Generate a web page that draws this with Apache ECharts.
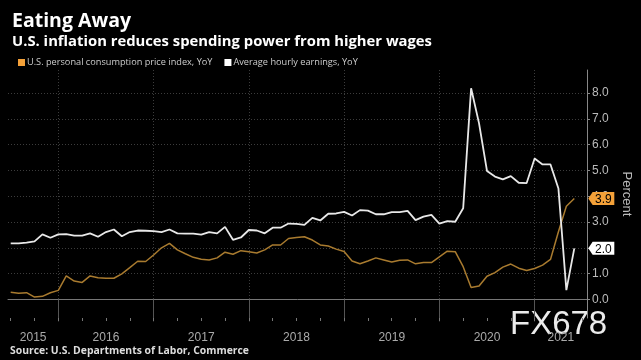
<!DOCTYPE html>
<html><head><meta charset="utf-8">
<script src="https://cdn.jsdelivr.net/npm/echarts@6/dist/echarts.min.js"></script>
<style>html,body{margin:0;padding:0;background:#000}#c{width:641px;height:360px}</style>
</head><body><div id="c"></div>
<script>
const months = [
'2015-06','2015-07','2015-08','2015-09','2015-10','2015-11','2015-12',
'2016-01','2016-02','2016-03','2016-04','2016-05','2016-06','2016-07','2016-08','2016-09','2016-10','2016-11','2016-12',
'2017-01','2017-02','2017-03','2017-04','2017-05','2017-06','2017-07','2017-08','2017-09','2017-10','2017-11','2017-12',
'2018-01','2018-02','2018-03','2018-04','2018-05','2018-06','2018-07','2018-08','2018-09','2018-10','2018-11','2018-12',
'2019-01','2019-02','2019-03','2019-04','2019-05','2019-06','2019-07','2019-08','2019-09','2019-10','2019-11','2019-12',
'2020-01','2020-02','2020-03','2020-04','2020-05','2020-06','2020-07','2020-08','2020-09','2020-10','2020-11','2020-12',
'2021-01','2021-02','2021-03','2021-04','2021-05'];
const pce = [
0.28,0.24,0.26,0.09,0.12,0.26,0.35,
0.91,0.71,0.66,0.91,0.84,0.82,0.82,0.99,1.23,1.48,1.47,1.72,
2.00,2.17,1.92,1.77,1.63,1.56,1.53,1.61,1.83,1.75,1.89,1.85,
1.80,1.92,2.11,2.11,2.36,2.40,2.43,2.30,2.11,2.07,1.95,1.86,
1.49,1.38,1.49,1.61,1.53,1.45,1.52,1.53,1.38,1.43,1.43,1.65,
1.87,1.85,1.27,0.46,0.52,0.90,1.04,1.25,1.37,1.21,1.12,1.20,
1.33,1.55,2.62,3.61,3.91];
const ahe = [
2.17,2.17,2.20,2.25,2.52,2.39,2.52,
2.53,2.47,2.47,2.56,2.43,2.61,2.71,2.45,2.61,2.67,2.66,2.65,
2.61,2.71,2.56,2.55,2.55,2.51,2.61,2.56,2.81,2.31,2.40,2.69,
2.67,2.56,2.78,2.78,2.94,2.93,2.89,3.16,3.06,3.32,3.33,3.39,
3.25,3.46,3.44,3.30,3.30,3.38,3.38,3.43,3.07,3.21,3.28,2.94,
3.03,3.01,3.53,8.18,6.82,4.98,4.76,4.65,4.78,4.52,4.51,5.46,
5.23,5.23,4.30,0.36,1.98];
const yearLabels = ['2015','2016','2017','2018','2019','2020','2021'];
const yTicks = [0,1,2,3,4,5,6,7,8];
const seriesNames = ['U.S. personal consumption price index, YoY','Average hourly earnings, YoY'];

const baseYear = 2015;
const toIdx = s => { const [y,m] = s.split('-').map(Number); return (y-baseYear)*12 + m; };
const xs = months.map(toIdx);
const X_MIN = 5.66, X_MAX = 78.6;
const yearBounds = yearLabels.map((_,i)=>i*12).filter(v=>v>X_MIN && v<X_MAX);
const yearCenters = yearLabels.map((_,i)=>{const a=Math.max(i*12,X_MIN),b=Math.min((i+1)*12,X_MAX);return (a+b)/2;});
const quarterTicks = [];
for (let q=3; q<=X_MAX; q+=3) if (q>=X_MIN) quarterTicks.push(q);

const pceData = xs.map((x,i)=>[x,pce[i]]);
const aheData = xs.map((x,i)=>[x,ahe[i]]);
const lastX = xs[xs.length-1];

const tagPath = 'path://M0,6 L5,0 L30,0 L30,12 L5,12 Z';
function tag(val, color){
  return {
    symbol: tagPath, symbolSize:[26,13], symbolKeepAspect:false, symbolOffset:[27,0],
    silent:true, animation:false,
    itemStyle:{color:color},
    label:{show:true, position:'inside', formatter:p=>p.value.toFixed(1), color:'#000', fontSize:12, fontFamily:'Liberation Sans', offset:[2,1]},
    data:[{coord:[lastX,val], value:val}]
  };
}

const chart = echarts.init(document.getElementById('c'), null, {renderer:'canvas'});
chart.setOption({
  backgroundColor:'#000',
  animation:false,
  title:{
    text:'Eating Away', subtext:'U.S. inflation reduces spending power from higher wages',
    left:7, top:6, itemGap:3,
    textStyle:{color:'#fff', fontSize:19.5, fontWeight:'bold', fontFamily:'Open Sans'},
    subtextStyle:{color:'#fff', fontSize:14.8, fontWeight:'bold', fontFamily:'Open Sans'}
  },
  legend:{
    left:13, top:53, itemWidth:7, itemHeight:7, itemGap:12, icon:'rect',
    textStyle:{color:'#ccc', fontSize:9.2, fontFamily:'Open Sans', padding:[0,0,0,-3]},
    data:[{name:seriesNames[0], itemStyle:{color:'#f4a139'}},{name:seriesNames[1], itemStyle:{color:'#ffffff'}}]
  },
  grid:{left:8, right:52, top:70, bottom:42},
  xAxis:[{
    type:'value', min:X_MIN, max:X_MAX,
    axisLine:{show:true, lineStyle:{color:'#777', width:1}},
    axisTick:{show:true, customValues:yearBounds, length:22, lineStyle:{color:'#555'}},
    axisLabel:{show:true, customValues:yearCenters, formatter:v=>yearLabels[Math.floor(v/12)], color:'#aaa', fontSize:12, fontFamily:'Liberation Sans', margin:14},
    splitLine:{show:true, lineStyle:{color:'#3c3c3c', type:[1,2], width:1}}
  },{
    type:'value', min:X_MIN, max:X_MAX, position:'bottom',
    axisLine:{show:false},
    axisTick:{show:true, customValues:quarterTicks, length:3, lineStyle:{color:'#777'}},
    axisLabel:{show:false}, splitLine:{show:false}
  }],
  yAxis:{
    type:'value', position:'right', min:-0.72, max:8.89,
    name:'Percent', nameLocation:'middle', nameRotate:-90, nameGap:33,
    nameTextStyle:{color:'#bbb', fontSize:13, fontFamily:'Liberation Sans'},
    axisLine:{show:true, lineStyle:{color:'#888'}},
    axisTick:{show:true, customValues:yTicks, length:3, lineStyle:{color:'#888'}},
    axisLabel:{customValues:yTicks, formatter:v=>v.toFixed(1), color:'#bbb', fontSize:12, fontFamily:'Liberation Sans', margin:5},
    splitLine:{show:true, lineStyle:{color:'#3c3c3c', type:[1,2], width:1}}
  },
  series:[{
    name:seriesNames[0], type:'line', data:pceData, showSymbol:false, symbol:'none',
    lineStyle:{color:'#a97b2f', width:1.5}, itemStyle:{color:'#f4a139'},
    markPoint: tag(pce[pce.length-1], '#f4a139')
  },{
    name:seriesNames[1], type:'line', data:aheData, showSymbol:false, symbol:'none',
    lineStyle:{color:'#e8e8e8', width:1.8}, itemStyle:{color:'#fff'},
    markPoint: tag(ahe[ahe.length-1], '#ffffff')
  }],
  graphic:[{
    type:'text', left:10, top:346,
    style:{text:'Source: U.S. Departments of Labor, Commerce', fill:'#ddd', font:'bold 10.4px "Open Sans"'}
  },{
    type:'text', left:510, top:308,
    style:{text:'FX678', fill:'rgba(255,255,255,0.92)', font:'33px "Liberation Sans"'}
  }]
});
</script>
</body></html>
